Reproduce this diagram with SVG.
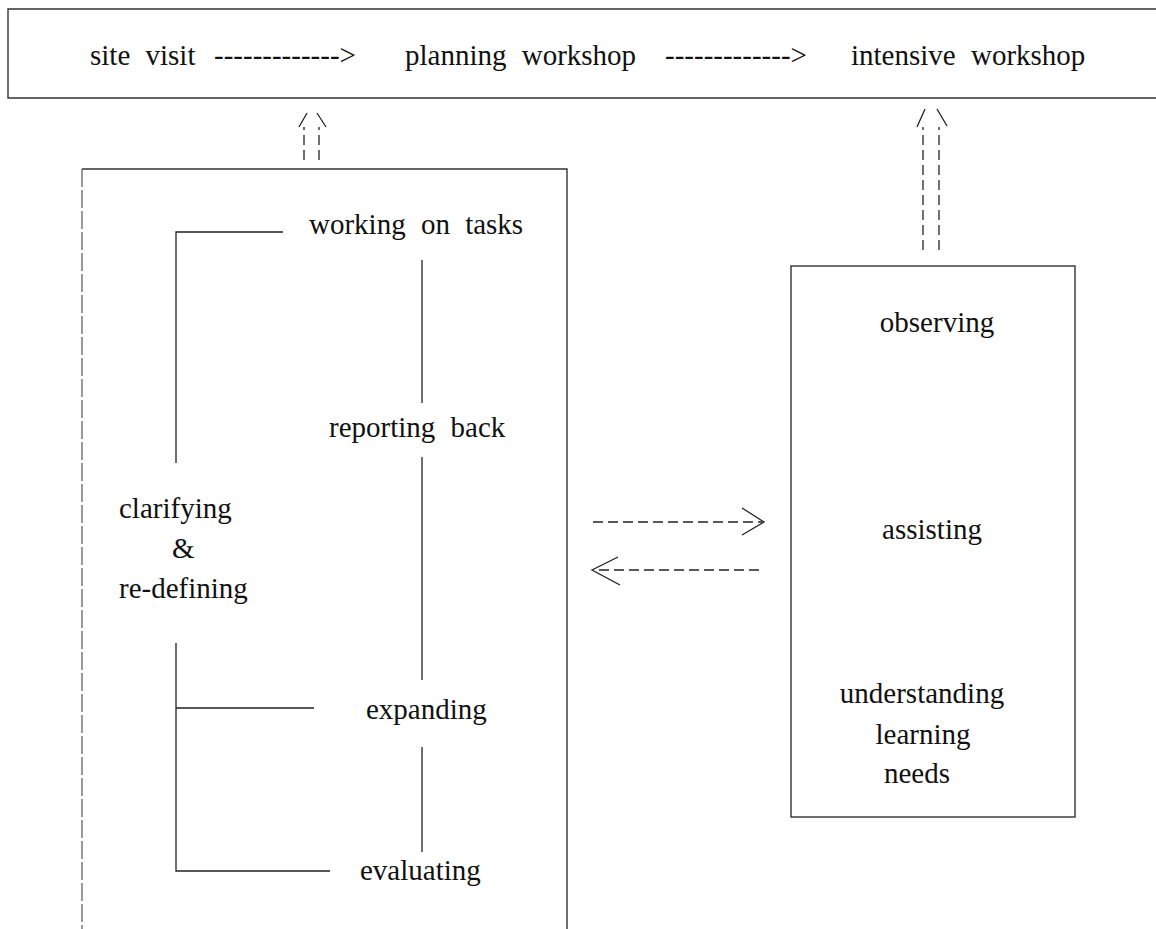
<svg xmlns="http://www.w3.org/2000/svg" width="1156" height="929" viewBox="0 0 1156 929">
<style>
text{font-family:"Liberation Serif","Times New Roman",serif;font-size:29px;fill:#111;word-spacing:8px}
.ln{fill:none;stroke:#222;stroke-width:1.3}
.dl{fill:none;stroke:#222;stroke-width:1.3;stroke-dasharray:10 5}
.edge{fill:none;stroke:#333;stroke-width:1.4}
.faint{fill:none;stroke:#555;stroke-width:1.2;stroke-dasharray:18 3}
</style>
<rect width="1156" height="929" fill="#fff"/>
<g id="sequence-bar">
<path class="edge" d="M1156,9 H8 V98 H1156"/>
<text x="90" y="65">site visit</text>
<text x="214" y="65">-------------&gt;</text>
<text x="405" y="65">planning workshop</text>
<text x="665" y="65">-------------&gt;</text>
<text x="851" y="65">intensive workshop</text>
</g>
<g id="task-cycle">
<path class="edge" d="M82,169 H567 V929"/>
<path class="faint" d="M82,169 V929"/>
<text x="309" y="234">working on tasks</text>
<text x="329" y="437">reporting back</text>
<text x="119" y="518">clarifying</text>
<text x="172" y="558">&amp;</text>
<text x="119" y="598">re-defining</text>
<text x="366" y="719">expanding</text>
<text x="360" y="880">evaluating</text>
<path class="ln" d="M283,232 H176 V463 M176,643 V871 H330 M176,708 H314 M422,260 V403 M422,457 V680 M422,747 V852"/>
</g>
<g id="support-box">
<rect class="edge" x="791" y="266" width="284" height="551"/>
<g text-anchor="middle">
<text x="937" y="332">observing</text>
<text x="932" y="539">assisting</text>
<text x="922" y="703">understanding</text>
<text x="923" y="744">learning</text>
<text x="917" y="783">needs</text>
</g>
</g>
<g id="connectors">
<path class="dl" d="M304,160 V127 M319,160 V127"/>
<path class="ln" d="M299,127 L307,113 M317,113 L326,127"/>
<path class="dl" d="M923,250 V127 M939,250 V127"/>
<path class="ln" d="M917,127 L925,109 M937,109 L947,126"/>
<path class="dl" d="M593,522 H762"/>
<path class="ln" d="M742,508 L764,522 L742,535"/>
<path class="dl" d="M759,570 H594"/>
<path class="ln" d="M618,557 L592,570 L620,585"/>
</g>
</svg>
